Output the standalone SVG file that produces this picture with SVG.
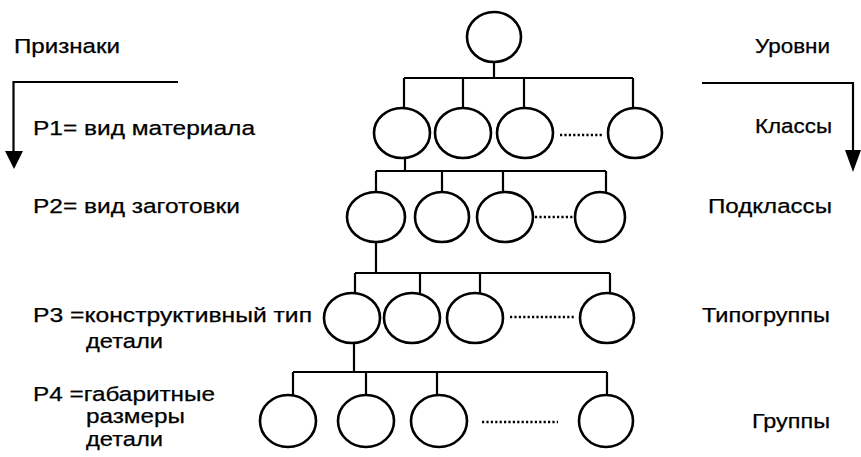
<svg xmlns="http://www.w3.org/2000/svg" width="861" height="457" viewBox="0 0 861 457">
<style>
  .n { fill: none; stroke: #000; stroke-width: 2.6; }
  .c { fill: none; stroke: #000; stroke-width: 2.2; }
  .d { fill: none; stroke: #000; stroke-width: 2.4; stroke-dasharray: 2.2 2.2; }
  .t { font-family: "Liberation Sans", Arial, sans-serif; font-size: 20.5px; fill: #000; stroke: #000; stroke-width: 0.25; }
</style>
<rect width="861" height="457" fill="#fff"/>
<g id="connectors">
  <path class="c" d="M494,62 V78 M404,78 H633 M404,78 V108 M463,78 V108 M524,78 V108 M633,78 V108"/>
  <path class="c" d="M405,158 V171 M376,171 H606 M376,171 V192 M442,171 V192 M503,171 V192 M606,171 V192"/>
  <path class="c" d="M376,242 V273 M355,273 H610 M355,273 V293 M420,273 V293 M480,273 V293 M610,273 V293"/>
  <path class="c" d="M354,343 V372 M293,372 H607 M293,372 V396 M366,372 V396 M437,372 V396 M607,372 V396"/>
  <path class="d" d="M560,135 H602 M535,217 H573 M510,317 H575 M482,422 H558"/>
</g>
<g id="arrow-left">
  <path class="c" d="M178,82 H13.5 V153"/>
  <polygon points="5,151 23,151 14,169" fill="#000"/>
</g>
<g id="arrow-right">
  <path class="c" d="M702,83 H853 V151"/>
  <polygon points="845,150 861,150 853,172" fill="#000"/>
</g>
<g id="root"><ellipse class="n" cx="494" cy="37" rx="27" ry="25"/></g>
<g id="level1">
  <ellipse class="n" cx="402" cy="133" rx="28" ry="25"/>
  <ellipse class="n" cx="463" cy="133" rx="28" ry="25"/>
  <ellipse class="n" cx="525" cy="133" rx="28" ry="25"/>
  <ellipse class="n" cx="635" cy="133" rx="27" ry="25"/>
</g>
<g id="level2">
  <ellipse class="n" cx="376" cy="217" rx="29" ry="25"/>
  <ellipse class="n" cx="442" cy="217" rx="27" ry="25"/>
  <ellipse class="n" cx="505" cy="217" rx="28" ry="25"/>
  <ellipse class="n" cx="600" cy="217" rx="25" ry="25"/>
</g>
<g id="level3">
  <ellipse class="n" cx="352" cy="318" rx="28" ry="25"/>
  <ellipse class="n" cx="412" cy="318" rx="28" ry="25"/>
  <ellipse class="n" cx="475" cy="318" rx="28" ry="25"/>
  <ellipse class="n" cx="607" cy="318" rx="27" ry="25"/>
</g>
<g id="level4">
  <ellipse class="n" cx="288" cy="421" rx="28" ry="26"/>
  <ellipse class="n" cx="366" cy="421" rx="28" ry="26"/>
  <ellipse class="n" cx="439" cy="421" rx="28" ry="26"/>
  <ellipse class="n" cx="606" cy="421" rx="27" ry="26"/>
</g>
<g id="labels-left">
  <text class="t" x="14" y="53" textLength="106" lengthAdjust="spacingAndGlyphs">Признаки</text>
  <text class="t" x="33" y="135" textLength="222" lengthAdjust="spacingAndGlyphs">P1= вид материала</text>
  <text class="t" x="33" y="213" textLength="207" lengthAdjust="spacingAndGlyphs">P2= вид заготовки</text>
  <text class="t" x="33" y="322" textLength="279" lengthAdjust="spacingAndGlyphs">P3 =конструктивный тип</text>
  <text class="t" x="86" y="348" textLength="77" lengthAdjust="spacingAndGlyphs">детали</text>
  <text class="t" x="33" y="401" textLength="182" lengthAdjust="spacingAndGlyphs">P4 =габаритные</text>
  <text class="t" x="86" y="423" textLength="99" lengthAdjust="spacingAndGlyphs">размеры</text>
  <text class="t" x="86" y="446" textLength="77" lengthAdjust="spacingAndGlyphs">детали</text>
</g>
<g id="labels-right">
  <text class="t" x="755" y="53" textLength="75" lengthAdjust="spacingAndGlyphs">Уровни</text>
  <text class="t" x="755" y="133" textLength="77" lengthAdjust="spacingAndGlyphs">Классы</text>
  <text class="t" x="708" y="213" textLength="124" lengthAdjust="spacingAndGlyphs">Подклассы</text>
  <text class="t" x="702" y="322" textLength="128" lengthAdjust="spacingAndGlyphs">Типогруппы</text>
  <text class="t" x="752" y="428" textLength="78" lengthAdjust="spacingAndGlyphs">Группы</text>
</g>
</svg>
